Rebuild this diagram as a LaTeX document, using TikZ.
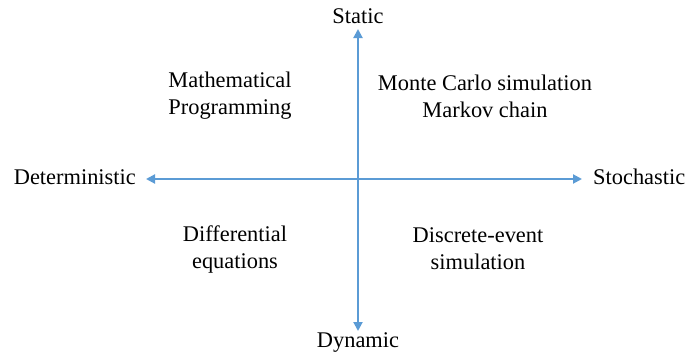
\documentclass[tikz,border=0pt]{standalone}
\usepackage{fontspec}
\setmainfont{Liberation Serif}
\usetikzlibrary{arrows.meta}
\definecolor{axisblue}{HTML}{5B9BD5}
\begin{document}
\begin{tikzpicture}[x=1pt,y=-1pt,
  axis/.style={draw=axisblue,line width=2pt,-{Triangle[length=9pt,width=9pt]}},
  lab/.style={font=\fontsize{22.4}{27}\selectfont,inner sep=0pt,align=center}]
\useasboundingbox (0,0) rectangle (688,356);
\coordinate (c) at (358,179);
\coordinate (top) at (358,29);
\coordinate (bot) at (358,331);
\coordinate (lft) at (146,179);
\coordinate (rgt) at (582,179);
\draw[axis] (c) -- (top);
\draw[axis] (c) -- (bot);
\draw[axis] (c) -- (lft);
\draw[axis] (c) -- (rgt);
\node[lab] (static) at (358,16) {Static};
\node[lab] (dynamic) at (358,342) {Dynamic};
\node[lab,anchor=east] (det) at (136,177) {Deterministic};
\node[lab,anchor=west] (sto) at (593,177) {Stochastic};
\node[lab] (mp) at (230,96) {Mathematical\\Programming};
\node[lab] (mc) at (485,96) {Monte Carlo simulation\\Markov chain};
\node[lab] (de) at (235,249) {Differential\\equations};
\node[lab] (ds) at (478,249) {Discrete-event\\simulation};
\end{tikzpicture}
\end{document}
